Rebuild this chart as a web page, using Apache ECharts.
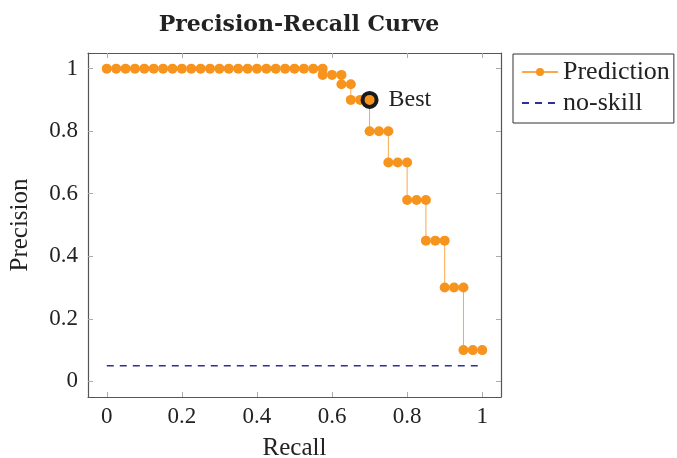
<!DOCTYPE html>
<html>
<head>
<meta charset="utf-8">
<script src="https://cdn.jsdelivr.net/npm/echarts@6/dist/echarts.min.js"></script>
<style>
  html, body { margin: 0; padding: 0; background: #fff; }
  #chart { width: 677px; height: 458px; }
</style>
</head>
<body>
<div id="chart"></div>
<script>
// values
const recall = [
  0, 0.025, 0.05, 0.075, 0.1, 0.125, 0.15, 0.175, 0.2, 0.225, 0.25, 0.275,
  0.3, 0.325, 0.35, 0.375, 0.4, 0.425, 0.45, 0.475, 0.5, 0.525, 0.55, 0.575,
  0.575, 0.6, 0.625, 0.625, 0.65, 0.65, 0.675, 0.7, 0.7, 0.725, 0.75,
  0.75, 0.775, 0.8, 0.8, 0.825, 0.85, 0.85, 0.875, 0.9, 0.9, 0.925, 0.95,
  0.95, 0.975, 1,
];
const precision = [
  1, 1, 1, 1, 1, 1, 1, 1, 1, 1, 1, 1,
  1, 1, 1, 1, 1, 1, 1, 1, 1, 1, 1, 1,
  0.98, 0.98, 0.98, 0.95, 0.95, 0.9, 0.9, 0.9, 0.8, 0.8, 0.8,
  0.7, 0.7, 0.7, 0.58, 0.58, 0.58, 0.45, 0.45, 0.45, 0.3, 0.3, 0.3,
  0.1, 0.1, 0.1,
];
const noSkillX = [0, 1];
const noSkillY = [0.05, 0.05];
const best = [0.7, 0.9];
const xTicks = [0, 0.2, 0.4, 0.6, 0.8, 1];
const yTicks = [0, 0.2, 0.4, 0.6, 0.8, 1];

const serif = 'Liberation Serif';
const orange = '#F7941D';
const navy = '#2E3192';

const fmt = (v) => String(Math.round(v * 10) / 10);

const tick = (vals) => ({
  show: true,
  inside: true,
  length: 5,
  customValues: vals,
  lineStyle: { color: '#aaa' },
});

const baseAxis = {
  type: 'value',
  min: -0.05,
  max: 1.05,
  axisLine: { show: true, onZero: false, lineStyle: { color: '#555', width: 1.2 } },
  splitLine: { show: false },
};

const option = {
  backgroundColor: '#fff',
  animation: false,
  title: {
    text: 'Precision-Recall Curve',
    left: 294,
    textAlign: 'center',
    top: 9,
    textStyle: { fontFamily: 'DejaVu Serif', fontSize: 22, fontWeight: 'bold', color: '#222' },
  },
  legend: {
    data: [
      { name: 'Prediction' },
      { name: 'no-skill', itemStyle: { color: 'rgba(0,0,0,0)', borderWidth: 0 } },
    ],
    orient: 'vertical',
    left: 513,
    top: 54,
    padding: [5, 4, 7, 8],
    itemGap: 5,
    itemWidth: 36,
    itemHeight: 10,
    borderColor: '#333',
    borderWidth: 1,
    borderRadius: 0,
    textStyle: { fontFamily: serif, fontSize: 26, color: '#222' },
  },
  grid: { left: 88, top: 53, width: 413, height: 344, outerBoundsMode: 'none' },
  xAxis: [
    {
      ...baseAxis,
      position: 'bottom',
      name: 'Recall',
      nameLocation: 'middle',
      nameGap: 39,
      nameTextStyle: { fontFamily: serif, fontSize: 25, color: '#222' },
      axisTick: tick(xTicks),
      axisLabel: { customValues: xTicks, formatter: fmt, fontFamily: serif, fontSize: 23, color: '#222', margin: 8 },
    },
    {
      ...baseAxis,
      position: 'top',
      axisTick: tick(xTicks),
      axisLabel: { show: false },
    },
  ],
  yAxis: [
    {
      ...baseAxis,
      position: 'left',
      name: 'Precision',
      nameLocation: 'middle',
      nameGap: 55,
      nameRotate: 90,
      nameTextStyle: { fontFamily: serif, fontSize: 25, color: '#222' },
      axisTick: tick(yTicks),
      axisLabel: { customValues: yTicks, formatter: fmt, fontFamily: serif, fontSize: 23, color: '#222', margin: 10 },
    },
    {
      ...baseAxis,
      position: 'right',
      axisTick: tick(yTicks),
      axisLabel: { show: false },
    },
  ],
  series: [
    {
      name: 'no-skill',
      type: 'line',
      data: noSkillX.map((x, i) => [x, noSkillY[i]]),
      showSymbol: false,
      symbol: 'none',
      itemStyle: { color: navy },
      lineStyle: { color: navy, width: 1.6, type: [7, 6] },
      z: 2,
    },
    {
      name: 'Prediction',
      type: 'line',
      data: recall.map((x, i) => [x, precision[i]]),
      symbol: 'circle',
      symbolSize: 10,
      showAllSymbol: true,
      itemStyle: { color: orange },
      lineStyle: { color: orange, width: 1, opacity: 0.8 },
      z: 3,
    },
    {
      name: 'Best',
      type: 'scatter',
      data: [best],
      symbol: 'circle',
      symbolSize: 14,
      itemStyle: { color: orange, borderColor: '#1a1a1a', borderWidth: 4, opacity: 1 },
      label: {
        show: true,
        position: 'right',
        distance: 10,
        formatter: 'Best',
        fontFamily: serif,
        fontSize: 24,
        color: '#222',
      },
      z: 4,
    },
  ],
};

const chart = echarts.init(document.getElementById('chart'));
chart.setOption(option);
</script>
</body>
</html>
